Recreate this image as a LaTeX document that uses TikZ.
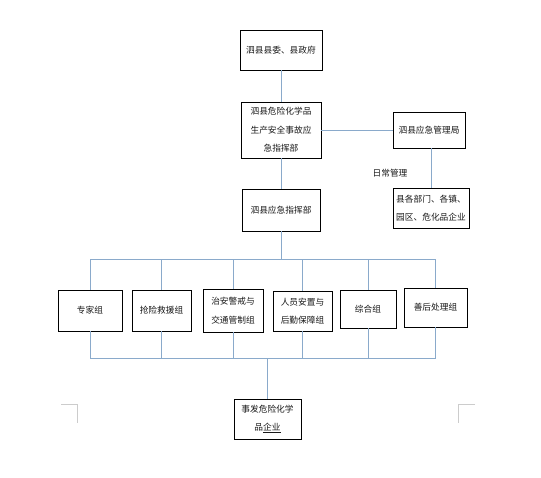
\documentclass[tikz,border=0pt]{standalone}
\usepackage{fontspec}
\setmainfont{Noto Sans CJK SC}
\usetikzlibrary{shadows}
\definecolor{lnk}{HTML}{8AAACB}
\begin{document}
\begin{tikzpicture}[x=1pt,y=-1pt,
  box/.style={draw=black,line width=0.8pt,fill=white,align=center,inner sep=1pt,
    font=\fontsize{8.7}{18.5}\selectfont,text=black!90,
    general shadow={fill=black!45,shadow xshift=0.9pt,shadow yshift=-0.9pt}},
  conn/.style={draw=lnk,line width=0.9pt},
  cornermark/.style={draw=black!20,line width=0.7pt}]
\useasboundingbox (0,0) rectangle (541,477);
% boxes
\node[box,minimum width=82,minimum height=40] (b1) at (281,50) {泗县县委、县政府};
\node[box,minimum width=80,minimum height=56] (b2) at (281,130) {泗县危险化学品\\生产安全事故应\\急指挥部};
\node[box,minimum width=72,minimum height=36] (b3) at (429,130) {泗县应急管理局};
\node[box,minimum width=76,minimum height=40] (b5) at (431,208) {县各部门、各镇、\\园区、危化品企业};
\node[box,minimum width=78,minimum height=42] (b6) at (281,210) {泗县应急指挥部};
\node[box,minimum width=64,minimum height=41] (g1) at (90,310.5) {专家组};
\node[box,minimum width=59,minimum height=41] (g2) at (161.5,310.5) {抢险救援组};
\node[box,minimum width=60,minimum height=43] (g3) at (233,310.5) {治安警戒与\\交通管制组};
\node[box,minimum width=59,minimum height=40] (g4) at (302.5,311) {人员安置与\\后勤保障组};
\node[box,minimum width=56,minimum height=38] (g5) at (368,309) {综合组};
\node[box,minimum width=63,minimum height=39] (g6) at (435.5,307.5) {善后处理组};
\node[box,minimum width=67,minimum height=40] (b7) at (267.5,419) {事发危险化学\\品\underline{企业}};
\node[font=\fontsize{8.7}{10}\selectfont,text=black!90] (lbl) at (390,173) {日常管理};
% bus coordinates
\coordinate (topbus) at (0,259);
\coordinate (botbus) at (0,358);
\coordinate (dropx) at (267.5,0);
% connectors
\draw[conn] (b1) -- (b2);
\draw[conn] (b2) -- (b3);
\draw[conn] (b5.north) -- (b5.north |- b3.south);
\draw[conn] (b2) -- (b6);
\draw[conn] (b6.south) -- (b6.south |- topbus);
\draw[conn] (g1.north |- topbus) -- (g6.north |- topbus);
\draw[conn] (g1.south |- botbus) -- (g6.south |- botbus);
\foreach \g in {g1,g2,g3,g4,g5,g6}{
  \draw[conn] (\g.north |- topbus) -- (\g.north);
  \draw[conn] (\g.south) -- (\g.south |- botbus);
}
\draw[conn] (dropx |- botbus) -- (b7.north);
% page corner marks
\coordinate (m1) at (61,404);
\coordinate (m2) at (77,404);
\coordinate (m3) at (77,423);
\coordinate (m4) at (475,404);
\coordinate (m5) at (458,404);
\coordinate (m6) at (458,423);
\draw[cornermark] (m1) -- (m2) -- (m3);
\draw[cornermark] (m4) -- (m5) -- (m6);
\end{tikzpicture}
\end{document}
